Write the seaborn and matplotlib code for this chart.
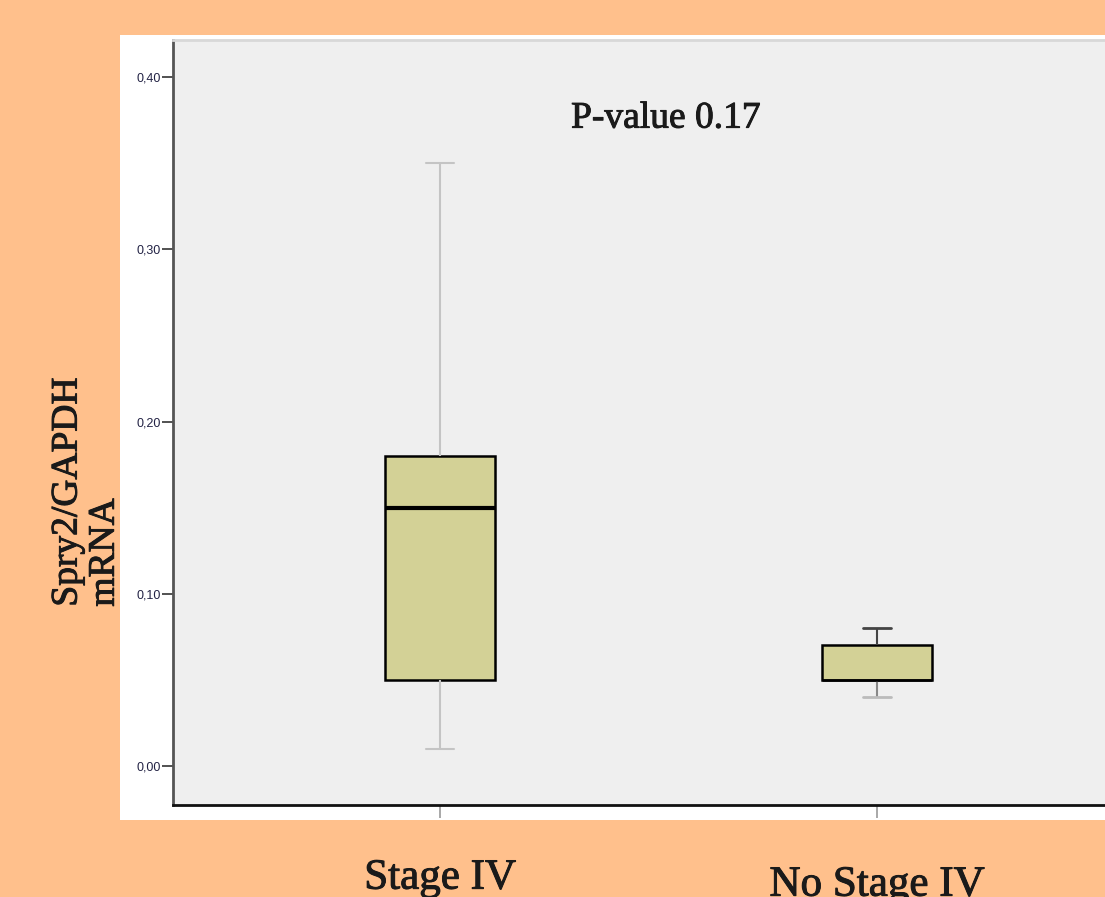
import numpy as np
import pandas as pd
import matplotlib
matplotlib.use("Agg")
import matplotlib.pyplot as plt
import matplotlib.transforms as mtransforms
import matplotlib.patheffects as pe
from matplotlib.patches import Rectangle
import seaborn as sns

# 数据
groups = ["Stage IV", "No Stage IV"]
stage_iv_values = [0.01, 0.05, 0.15, 0.18, 0.35]      # min, Q1, median, Q3, max
no_stage_iv_values = [0.04, 0.05, 0.05, 0.07, 0.08]
y_ticks = [0.00, 0.10, 0.20, 0.30, 0.40]
y_tick_labels = ["0,00", "0,10", "0,20", "0,30", "0,40"]
p_text = "P-value 0.17"
y_label = "Spry2/GAPDH\nmRNA"

df_stage = pd.DataFrame({"group": groups[0], "value": stage_iv_values})
df_no = pd.DataFrame({"group": groups[1], "value": no_stage_iv_values})

sns.set_style("white")
plt.rcParams["font.family"] = ["Liberation Serif", "DejaVu Serif"]

fig = plt.figure(figsize=(11.05, 8.97), dpi=100)
fig.patch.set_facecolor("#FFC08C")

# 白色底板
fig.patches.append(Rectangle((120 / 1105, 1 - 820 / 897), 1.0, (820 - 35) / 897,
                             transform=fig.transFigure, facecolor="white",
                             edgecolor="none", zorder=-5))

ax = fig.add_axes([173 / 1105, 1 - 805 / 897, 1 - 173 / 1105, (805 - 40) / 897])
ax.set_zorder(1)
ax.set_facecolor("#EFEFEF")

box_color = "#D3D196"
common = dict(x="group", y="value", order=groups, width=0.25, capwidths=0.063,
              fliersize=0, ax=ax,
              boxprops=dict(facecolor=box_color, edgecolor="black", linewidth=1.8))

sns.boxplot(data=df_stage, **common,
            medianprops=dict(color="black", linewidth=3.0),
            whiskerprops=dict(color="#C4C4C4", linewidth=1.5),
            capprops=dict(color="#C4C4C4", linewidth=1.5))

n_before = len(ax.lines)
sns.boxplot(data=df_no, **common,
            medianprops=dict(color="black", linewidth=1.8),
            whiskerprops=dict(color="#444444", linewidth=1.5),
            capprops=dict(color="#444444", linewidth=2.0))
new_lines = ax.lines[n_before:]
# 下须和下帽颜色较浅
new_lines[0].set_color("#888888")
new_lines[2].set_color("#BBBBBB")

ax.set_xlim(-0.611, 1.522)
ax.set_ylim(-0.0226, 0.4215)

ax.set_yticks(y_ticks)
ax.set_yticklabels(y_tick_labels, fontsize=9, color="#222244",
                   family=["Liberation Sans", "DejaVu Sans"])
ax.tick_params(axis="y", direction="out", length=8, width=1.2, color="#333333", pad=1, left=True)
ax.tick_params(axis="x", direction="out", length=9, width=1.2, color="#999999",
               labelsize=31, pad=30, bottom=True, labelcolor="#1a1a1a")
ax.set_xticks([0, 1])
ax.set_xticklabels(groups)
# 第二个标签略低
offset = mtransforms.ScaledTranslation(0, -7 / 100, fig.dpi_scale_trans)
lbls = ax.get_xticklabels()
lbls[1].set_transform(lbls[1].get_transform() + offset)

# 文字略加粗
thick = [pe.withStroke(linewidth=0.7, foreground="#1a1a1a")]
for lb in lbls:
    lb.set_path_effects(thick)

ax.set_xlabel("")
ax.set_ylabel(y_label, fontsize=27, multialignment="left", linespacing=1.1,
              color="#1a1a1a", path_effects=thick)
ax.yaxis.set_label_coords(-0.055, 0.409)

ax.text(0.517, 0.376, p_text, fontsize=27, ha="center", va="center",
        color="#1a1a1a", path_effects=thick)

ax.spines["right"].set_visible(False)
ax.spines["top"].set_color("#D8D8D8")
ax.spines["top"].set_linewidth(2)
ax.spines["left"].set_color("#555555")
ax.spines["left"].set_linewidth(2)
ax.spines["bottom"].set_color("#111111")
ax.spines["bottom"].set_linewidth(2)

fig.savefig("out.png", dpi=100, facecolor=fig.get_facecolor())
